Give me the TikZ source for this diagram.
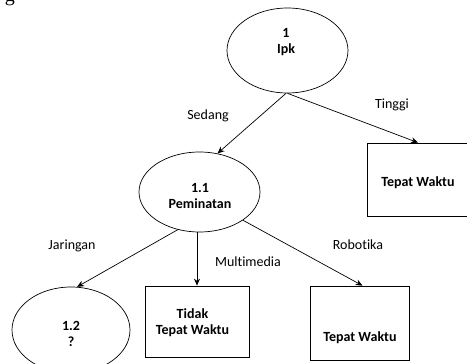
\documentclass[tikz,border=0pt]{standalone}
\usepackage{fontspec}
\setmainfont{Carlito}[Ligatures=NoCommon]
\newfontfamily\capfont{Liberation Serif}
\usetikzlibrary{shapes.geometric,arrows.meta}
\begin{document}
\begin{tikzpicture}[x=1pt,y=-1pt,
  proc/.style={draw,ellipse,inner sep=0pt,line width=0.7pt},
  outbox/.style={draw,rectangle,inner sep=0pt,line width=0.7pt},
  ttl/.style={font=\fontsize{14}{16}\selectfont\bfseries,align=center,inner sep=0pt},
  lbl/.style={font=\fontsize{14}{16}\selectfont,inner sep=0pt},
  arr/.style={-{Stealth[length=7pt,width=6pt]},line width=0.7pt}]
\useasboundingbox (0,0) rectangle (467,364);
% cut-off caption glyph
\node[font=\fontsize{20}{20}\selectfont\capfont,anchor=base,inner sep=0pt] (capg) at (10,1.5) {g};
% processes
\node[proc,minimum width=121,minimum height=85] (e1) at (287.5,50.5) {};
\node[ttl] (t1) at (286,42) {1\\Ipk};
\node[proc,minimum width=121,minimum height=80] (e11) at (199.5,192) {};
\node[ttl] (t11) at (200,196) {1.1\\Peminatan};
\node[proc,minimum width=118,minimum height=86] (e12) at (71,330) {};
\node[ttl] (t12) at (71,334) {1.2\\?};
% outcome boxes
\node[outbox,minimum width=102,minimum height=73] (ba) at (418,179.5) {};
\node[ttl] (tba) at (418,183) {Tepat Waktu};
\node[outbox,minimum width=104,minimum height=71] (bb) at (197,321.5) {};
\node[ttl] (tbb) at (192.5,322.5) {Tidak\\Tepat Waktu};
\node[outbox,minimum width=99,minimum height=74] (bc) at (359.5,323) {};
\node[ttl] (tbc) at (360,338) {Tepat Waktu};
% connectors
\draw[arr] (e1.268) -- (e11.65);
\draw[arr] (e1.south) -- (ba.north);
\draw[arr] (e11.240) -- (e12.82);
\draw[arr] (e11.south -| bb.north) -- (bb.north);
\draw[arr] (e11.-33) -- ([xshift=3]bc.north);
% labels
\node[lbl] (lsedang) at (208,116) {Sedang};
\node[lbl] (ltinggi) at (392,105) {Tinggi};
\node[lbl] (ljar) at (72,246) {Jaringan};
\node[lbl] (lmul) at (248,262) {Multimedia};
\node[lbl] (lrob) at (358,245) {Robotika};
\end{tikzpicture}
\end{document}
